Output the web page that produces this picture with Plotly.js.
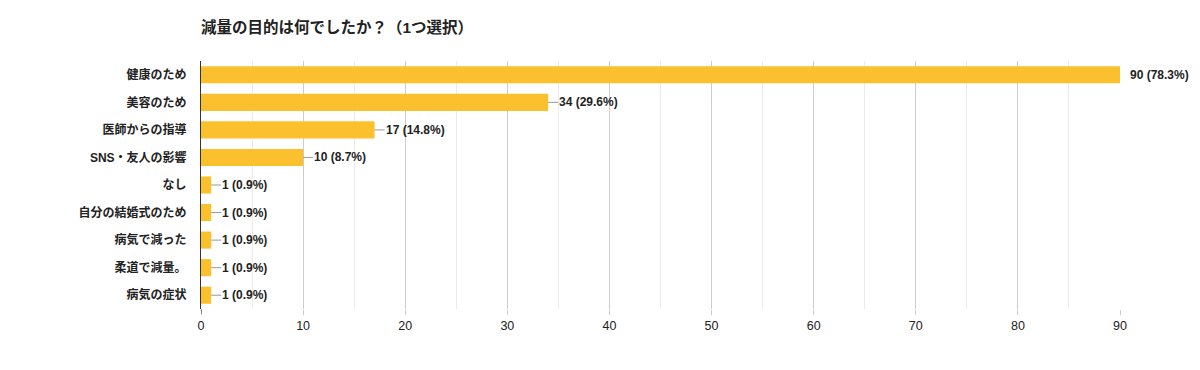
<!DOCTYPE html>
<html><head><meta charset="utf-8">
<script src="https://cdn.plot.ly/plotly-3.0.1.min.js"></script>
<style>html,body{margin:0;padding:0;background:#fff}</style>
</head><body><div id="chart" style="width:1200px;height:370px"></div>
<script>
const categories = ['健康のため','美容のため','医師からの指導','SNS・友人の影響','なし','自分の結婚式のため','病気で減った','柔道で減量。','病気の症状'];
const counts = [90, 34, 17, 10, 1, 1, 1, 1, 1];
const percents = ['78.3%','29.6%','14.8%','8.7%','0.9%','0.9%','0.9%','0.9%','0.9%'];
const xTicks = [0,10,20,30,40,50,60,70,80,90];

const FONT = 'Liberation Sans, Arial, Noto Sans CJK JP, sans-serif';
const maxX = 90;

const shapes = [];
const annotations = [];
categories.forEach((c, i) => {
  const label = counts[i] + ' (' + percents[i] + ')';
  if (counts[i] < maxX) {
    shapes.push({type:'line', xref:'x', yref:'y', xsizemode:'pixel', xanchor:counts[i], x0:0, x1:10,
      y0:i, y1:i, line:{color:'#999', width:1}});
    annotations.push({xref:'x', yref:'y', x:counts[i], y:i, xanchor:'left', xshift:9, showarrow:false,
      text:'<b>'+label+'</b>', font:{family:FONT, size:12, color:'#222'}});
  } else {
    annotations.push({xref:'x', yref:'y', x:counts[i], y:i, xanchor:'left', xshift:8, showarrow:false,
      text:'<b>'+label+'</b>', font:{family:FONT, size:12, color:'#222'}});
  }
});

const trace = {
  type:'bar', orientation:'h', y:categories.map((c,i)=>i), x:counts,
  marker:{color:'#FBC02D'}, width:0.62, hoverinfo:'none'
};

const layout = {
  width:1200, height:370,
  margin:{l:201, r:80, t:61, b:61},
  paper_bgcolor:'#fff', plot_bgcolor:'#fff',
  showlegend:false,
  title:{text:'<b>減量の目的は何でしたか？（1つ選択）</b>', x:201/1200, xanchor:'left', y:0.925, yanchor:'middle',
    font:{family:FONT, size:15.5, color:'#222'}},
  xaxis:{range:[0,maxX], tickvals:xTicks, ticktext:xTicks.map(String), showgrid:true, gridcolor:'#cccccc',
    gridwidth:1, zeroline:false, showline:false, ticks:'outside', ticklen:5, tickcolor:'#cccccc',
    tickfont:{family:FONT, size:12.5, color:'#222'},
    minor:{dtick:5, tick0:0, showgrid:true, gridcolor:'#ebebeb', ticks:''}, fixedrange:true},
  yaxis:{type:'linear', tickvals:categories.map((c,i)=>i), ticktext:categories.map(c=>'<b>'+c+'</b>'),
    range:[8.5,-0.5], showgrid:false, zeroline:false, showline:true, linecolor:'#333', linewidth:1,
    ticks:'', ticklabelstandoff:11, tickfont:{family:FONT, size:12, color:'#222'}},
  shapes:shapes.concat([{type:'line', xref:'x', yref:'paper', x0:0, x1:0, y0:0, y1:-0.02, line:{color:'#333', width:1}}]),
  annotations:annotations
};

Plotly.newPlot('chart', [trace], layout, {displayModeBar:false, staticPlot:true});
</script>
</body></html>
